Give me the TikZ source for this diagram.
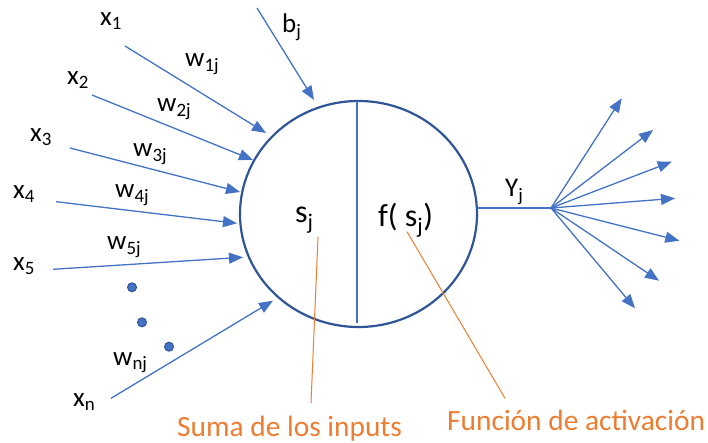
\documentclass[tikz,border=0pt]{standalone}
\usepackage{fontspec}
\setmainfont{Carlito}
\usetikzlibrary{arrows.meta,shapes.geometric}
\definecolor{lblue}{HTML}{4472C4}
\definecolor{dblue}{HTML}{2F5597}
\definecolor{orng}{HTML}{ED7D31}
\begin{document}
\begin{tikzpicture}[x=1pt,y=-1pt,
  lbl/.style={anchor=base west,inner sep=0pt,font=\fontsize{27}{32}\selectfont},
  big/.style={anchor=base west,inner sep=0pt,font=\fontsize{32}{38}\selectfont},
  note/.style={anchor=base west,inner sep=0pt,text=orng,font=\fontsize{29.4}{34}\selectfont},
  conn/.style={lblue,line width=1.3pt,-{Triangle[length=14pt,width=11pt]}},
  plain/.style={lblue,line width=1.3pt},
  pointer/.style={orng,line width=1pt},
  dot/.style={circle,fill=lblue,draw=dblue,line width=1pt,minimum size=9pt,inner sep=0pt}]
\useasboundingbox (0,0) rectangle (708,443);
% neuron
\node[ellipse,draw=dblue,line width=2.2pt,minimum width=237pt,minimum height=226pt,inner sep=0pt] (neuron) at (358.5,214) {};
\coordinate (divtop) at (357,101);
\coordinate (divbot) at (357,323);
\draw[plain] (divtop) -- (divbot);
% labels
\node[lbl] (x1) at (100,26) {x\textsubscript{1}};
\node[lbl] (w1) at (185,66.7) {w\textsubscript{1j}};
\node[lbl] (x2) at (67,85) {x\textsubscript{2}};
\node[lbl] (w2) at (157,112) {w\textsubscript{2j}};
\node[lbl] (x3) at (30,142) {x\textsubscript{3}};
\node[lbl] (w3) at (133,157) {w\textsubscript{3j}};
\node[lbl] (x4) at (13,199) {x\textsubscript{4}};
\node[lbl] (w4) at (115,198) {w\textsubscript{4j}};
\node[lbl] (w5) at (107,250) {w\textsubscript{5j}};
\node[lbl] (x5) at (13,270.7) {x\textsubscript{5}};
\node[lbl] (wn) at (113,365) {w\textsubscript{nj}};
\node[lbl] (xn) at (73,406.7) {x\textsubscript{n}};
\node[lbl] (bj) at (282,33) {b\textsubscript{j}};
\node[big] (sj) at (295,223) {s\textsubscript{j}};
\node[big] (fsj) at (378,227) {f( s\textsubscript{j})};
\node[lbl] (yj) at (505,197) {Y\textsubscript{j}};
\node[note] (suma) at (177,436) {Suma de los inputs};
\node[note] (func) at (447,430) {Función de activación};
% input arrows
\coordinate (s1) at (125,46);   \coordinate (e1) at (266,133);
\coordinate (s2) at (92,95);    \coordinate (e2) at (253,160);
\coordinate (s3) at (70,148);   \coordinate (e3) at (240,192);
\coordinate (s4) at (56,201.7); \coordinate (e4) at (237,223.3);
\coordinate (s5) at (53,269.3); \coordinate (e5) at (243,257.3);
\coordinate (sn) at (111,398.3);\coordinate (en) at (273,300.7);
\coordinate (sb) at (257,8);    \coordinate (eb) at (314,100);
\foreach \i in {1,2,3,4,5,n,b} {\draw[conn] (s\i) -- (e\i);}
% dots
\node[dot] (d1) at (132,287.3) {};
\node[dot] (d2) at (142,322.3) {};
\node[dot] (d3) at (169,346.7) {};
% output
\coordinate (yout) at (477,208);
\coordinate (hub) at (551,208);
\draw[plain] (yout) -- (hub);
\coordinate (o1) at (621.7,98.3);
\coordinate (o2) at (653,130);
\coordinate (o3) at (671.7,161.7);
\coordinate (o4) at (675,198.3);
\coordinate (o5) at (679.3,240.7);
\coordinate (o6) at (659,280.7);
\coordinate (o7) at (635,308.3);
\foreach \i in {1,...,7} {\draw[conn] (hub) -- (o\i);}
% pointers
\coordinate (p1a) at (318,237);
\coordinate (p1b) at (311,403);
\coordinate (p2a) at (407,231.7);
\coordinate (p2b) at (505,398.3);
\draw[pointer] (p1a) -- (p1b);
\draw[pointer] (p2a) -- (p2b);
\end{tikzpicture}
\end{document}
